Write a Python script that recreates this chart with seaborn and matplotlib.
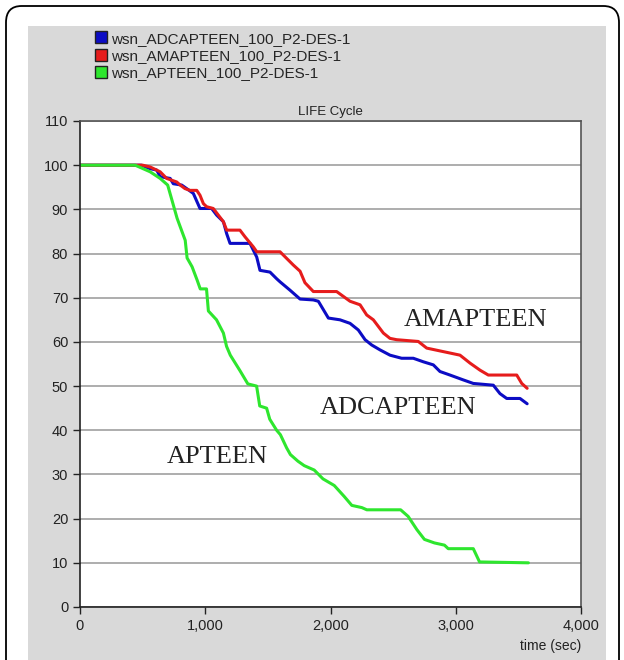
import pandas as pd
import matplotlib
matplotlib.use("Agg")
import matplotlib.pyplot as plt
import seaborn as sns
from matplotlib.lines import Line2D
from matplotlib.patches import FancyBboxPatch, Rectangle

sns.set_theme(style="white")
plt.rcParams['font.family'] = ['Liberation Sans', 'DejaVu Sans']

# values (time in sec, nodes alive)
adc_t = [0, 490, 560, 612, 640, 720, 745, 812, 852, 905, 958, 1051, 1091, 1145, 1171,
         1198, 1357, 1411, 1437, 1517, 1570, 1597, 1677, 1757, 1863, 1903, 1943, 1983,
         2076, 2156, 2222, 2276, 2329, 2395, 2475, 2568, 2661, 2741, 2821, 2874, 2954,
         3060, 3140, 3300, 3353, 3407, 3513, 3570]
adc_v = [100, 100, 99.2, 98.9, 97.4, 97, 95.8, 95.5, 94.7, 93.6, 90.2, 90.2, 88.7, 87.2, 84.5,
         82.3, 82.3, 79.2, 76.2, 75.8, 74.3, 73.6, 71.7, 69.7, 69.5, 69.2, 67.3, 65.4,
         65, 64.2, 62.7, 60.5, 59.3, 58.2, 57, 56.3, 56.3, 55.5, 54.8, 53.3, 52.5,
         51.4, 50.6, 50.2, 48.3, 47.2, 47.2, 46]

ama_t = [0, 500, 560, 640, 692, 772, 800, 838, 878, 932, 958, 985, 1011, 1064, 1145, 1171,
         1277, 1317, 1384, 1411, 1597, 1650, 1703, 1757, 1796, 1863, 2049, 2156, 2236,
         2289, 2342, 2422, 2475, 2528, 2701, 2768, 3034, 3114, 3194, 3260, 3487, 3527, 3570]
ama_v = [100, 100, 99.6, 98.5, 97, 96.2, 95.5, 94.7, 94.3, 94.3, 93.2, 91.3, 90.6, 90.2, 87.2, 85.3,
         85.3, 83.8, 81.5, 80.4, 80.4, 78.9, 77.4, 76, 73.4, 71.4, 71.4, 69.2, 68.4,
         66.1, 65, 62, 60.8, 60.5, 60.1, 58.6, 57, 55.2, 53.6, 52.5, 52.5, 50.6, 49.5]

apt_t = [0, 440, 560, 640, 700, 735, 775, 840, 855, 895, 935, 960, 1010, 1025, 1090, 1145,
         1170, 1200, 1277, 1340, 1410, 1435, 1490, 1515, 1570, 1600, 1650, 1680, 1740,
         1790, 1870, 1940, 1970, 2030, 2110, 2170, 2250, 2290, 2560, 2620, 2690, 2750,
         2830, 2910, 2940, 3140, 3190, 3580]
apt_v = [100, 100, 98.5, 97, 95.5, 92, 88, 83, 79, 77, 74, 72, 72, 67, 65, 62,
         59, 57, 53.5, 50.5, 50, 45.5, 45, 42.5, 40, 39, 36, 34.5, 33,
         32, 31, 29, 28.5, 27.5, 25, 23, 22.5, 22, 22, 20.5, 17.5, 15.3,
         14.5, 14, 13.2, 13.2, 10.2, 10]

series = ["wsn_ADCAPTEEN_100_P2-DES-1", "wsn_AMAPTEEN_100_P2-DES-1", "wsn_APTEEN_100_P2-DES-1"]
colors = ["#0c0cc4", "#e61c1c", "#2ee62e"]

df = pd.concat([
    pd.DataFrame({"time": adc_t, "value": adc_v, "run": series[0]}),
    pd.DataFrame({"time": ama_t, "value": ama_v, "run": series[1]}),
    pd.DataFrame({"time": apt_t, "value": apt_v, "run": series[2]}),
])

fig = plt.figure(figsize=(6.24, 6.60), dpi=100)
fig.patch.set_facecolor("white")

# gray panel + rounded outer frame
fig.patches.append(Rectangle((28/624, 0), 578/624, 1 - 26/660, transform=fig.transFigure,
                             facecolor="#d9d9d9", edgecolor="none", zorder=-10))
fig.patches.append(FancyBboxPatch((6/624, -0.05), 613/624, 1.05 - 6/660,
                                  boxstyle="round,pad=0,rounding_size=0.025",
                                  transform=fig.transFigure, facecolor="none",
                                  edgecolor="black", linewidth=1.3, zorder=-9))

ax = fig.add_axes([80/624, 1 - 607/660, 501/624, 486/660])
ax.set_facecolor("white")
sns.lineplot(data=df, x="time", y="value", hue="run", palette=colors, estimator=None,
             sort=False, linewidth=2.2, legend=False, ax=ax)

ax.set_xlim(0, 4000)
ax.set_ylim(0, 110)
ax.set_xticks([0, 1000, 2000, 3000, 4000])
ax.set_xticklabels(["0", "1,000", "2,000", "3,000", "4,000"])
ax.set_yticks(range(0, 111, 10))
ax.yaxis.grid(True, color="#a0a0a0", linewidth=1.2)
ax.xaxis.grid(False)
ax.set_axisbelow(True)
ax.tick_params(axis="both", direction="out", length=5, width=1, colors="#222222",
               labelsize=10.5, labelcolor="#222222", left=True, bottom=True)
for side in ["left", "bottom"]:
    ax.spines[side].set_color("#222222")
for side in ["top", "right"]:
    ax.spines[side].set_color("#555555")
for sp in ax.spines.values():
    sp.set_linewidth(1.2)
ax.set_xlabel("")
ax.set_ylabel("")
ax.set_title("LIFE Cycle", fontsize=9.5, color="#222222", pad=4)
ax.text(1.0, -0.065, "time (sec)", transform=ax.transAxes, ha="right",
        va="top", fontsize=10, color="#222222")

serif = ["Liberation Serif", "DejaVu Serif"]
ax.text(3160, 65, "AMAPTEEN", family=serif, fontsize=19, ha="center", va="center", color="#222222")
ax.text(2540, 45, "ADCAPTEEN", family=serif, fontsize=19, ha="center", va="center", color="#222222")
ax.text(1100, 34, "APTEEN", family=serif, fontsize=19, ha="center", va="center", color="#222222")

handles = [Line2D([], [], linestyle="none", marker="s", markersize=8, markerfacecolor=c,
                  markeredgecolor="#222222", markeredgewidth=1) for c in colors]
fig.legend(handles, series, loc="upper left", bbox_to_anchor=(83/624, 1 - 21/660),
           frameon=False, fontsize=11, handletextpad=0.25, labelspacing=0.22,
           handlelength=0.9, borderpad=0.2)

fig.savefig("out.png", dpi=100)
